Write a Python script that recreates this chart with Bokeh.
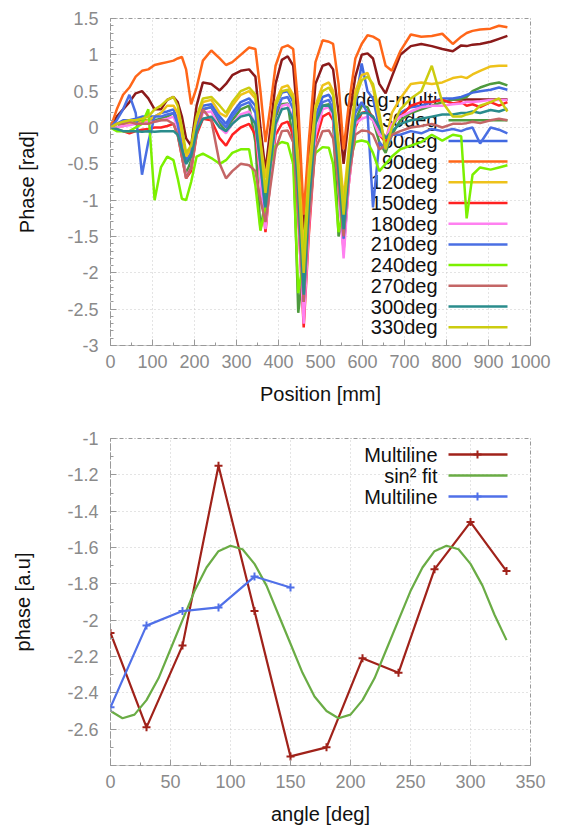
from bokeh.plotting import figure
from bokeh.layouts import column
from bokeh.models import Range1d, SingleIntervalTicker, CustomJSTickFormatter
from bokeh.core.properties import value
from bokeh.embed import file_html
from bokeh.resources import INLINE

# ---------------- top chart data ----------------
position_mm = [0, 15, 30, 45, 60, 75, 90, 105, 120, 135, 150, 160, 170, 180, 192, 205, 220, 240, 260, 275,
               290, 310, 330, 345, 357, 369, 381, 393, 408, 422, 435, 447, 460, 472, 488, 505, 520, 530, 543, 555,
               567, 583, 598, 612, 625, 640, 655, 670, 690, 715, 740, 765, 790, 815, 835, 848, 862, 880, 905, 925, 945]

phase_0deg_multi = [0, 0.15, 0.25, 0.35, 0.47, 0.5, 0.4, 0.25, 0.25, 0.38, 0.42, 0.35, 0.15, -0.15, -0.25, 0.3, 0.62, 0.6, 0.51, 0.6,
                    0.72, 0.78, 0.8, 0.7, 0.0, -0.6, 0.0, 0.6, 0.93, 0.98, 0.85, 0.0, -1.5, -0.5, 0.6, 0.85, 0.88, 0.8, 0.2, -0.5,
                    0.1, 0.7, 1.0, 1.02, 0.95, 0.6, 0.47, 0.7, 1.0, 1.12, 1.15, 1.12, 1.08, 1.05, 1.13, 1.12, 1.14, 1.15, 1.18, 1.22, 1.26]
phase_30deg = [0, 0.0, 0.05, 0.05, 0.08, 0.1, 0.1, 0.1, 0.12, 0.15, 0.2, 0.05, -0.35, -0.64, -0.45, 0.0, 0.25, 0.28, 0.05, -0.05,
               0.1, 0.25, 0.3, -0.2, -1.4, -1.0, -0.2, 0.15, 0.32, 0.33, -0.2, -2.55, -1.9, -0.6, 0.1, 0.3, 0.32, 0.1, -1.5, -1.2,
               -0.4, 0.1, 0.3, 0.28, 0.1, -0.2, -0.35, -0.1, 0.1, 0.2, 0.25, 0.3, 0.35, 0.38, 0.4, 0.42, 0.5, 0.55, 0.6, 0.62, 0.58]
phase_60deg = [0, 0.05, 0.1, 0.1, 0.12, 0.15, 0.15, 0.15, 0.2, 0.22, 0.25, 0.1, -0.2, -0.45, -0.35, 0.05, 0.3, 0.32, 0.15, 0.05,
               0.2, 0.35, 0.4, 0.3, -0.3, -0.9, -0.3, 0.3, 0.48, 0.5, 0.35, -0.8, -2.2, -1.0, 0.15, 0.42, 0.45, 0.35, -0.5, -1.4,
               -0.6, 0.3, 0.88, 0.5, 0.4, 0.0, -0.2, 0.0, 0.2, 0.28, 0.3, 0.35, 0.4, 0.4, 0.42, 0.45, 0.48, 0.5, 0.52, 0.55, 0.52]
phase_90deg = [0, 0.25, 0.45, 0.55, 0.7, 0.78, 0.8, 0.86, 0.88, 0.9, 0.92, 0.95, 0.97, 0.8, 0.32, 0.55, 0.92, 1.06, 0.95, 0.86,
               0.9, 1.0, 1.1, 1.08, 0.5, -0.2, 0.3, 0.85, 1.1, 1.13, 1.08, 0.3, -1.2, -0.2, 0.9, 1.2, 1.18, 1.15, 0.6, -0.3,
               0.3, 0.95, 1.15, 1.27, 1.25, 1.2, 0.85, 0.78, 1.05, 1.28, 1.25, 1.26, 1.29, 1.15, 1.25, 1.3, 1.33, 1.35, 1.36, 1.4, 1.38]
phase_120deg = [0, 0.0, 0.02, 0.05, 0.05, 0.08, 0.1, 0.15, 0.2, 0.3, 0.3, 0.2, -0.1, -0.4, -0.3, 0.1, 0.35, 0.38, 0.2, 0.15,
                0.3, 0.45, 0.5, 0.4, -0.2, -0.7, -0.2, 0.35, 0.55, 0.58, 0.45, -0.4, -1.7, -0.6, 0.3, 0.58, 0.62, 0.5, -0.2, -1.0,
                -0.3, 0.5, 0.72, 0.75, 0.55, 0.1, -0.2, 0.2, 0.4, 0.6, 0.62, 0.6, 0.62, 0.68, 0.7, 0.68, 0.73, 0.78, 0.84, 0.85, 0.85]
phase_150deg = [0, -0.03, -0.05, -0.08, -0.05, -0.03, -0.02, 0.0, 0.0, 0.02, 0.05, -0.1, -0.4, -0.7, -0.6, -0.1, 0.12, 0.1, -0.15, -0.25,
                -0.1, 0.0, 0.05, -0.1, -0.7, -1.44, -0.7, -0.1, 0.05, 0.08, -0.1, -1.2, -2.75, -1.5, -0.2, 0.15, 0.2, 0.1, -0.8, -1.69,
                -0.8, 0.0, 0.2, 0.22, 0.15, -0.1, -0.2, 0.05, 0.15, 0.3, 0.35, 0.35, 0.38, 0.33, 0.35, 0.3, 0.32, 0.28, 0.35, 0.3, 0.35]
phase_180deg = [0, 0.0, 0.02, 0.03, 0.05, 0.05, 0.08, 0.08, 0.1, 0.12, 0.15, 0.0, -0.35, -0.68, -0.55, -0.05, 0.2, 0.22, 0.0, -0.08,
                0.05, 0.18, 0.22, 0.05, -0.7, -1.4, -0.7, 0.0, 0.3, 0.32, 0.1, -1.2, -2.7, -1.4, -0.1, 0.25, 0.28, 0.15, -0.8, -1.8,
                -0.8, 0.05, 0.12, 0.15, 0.1, -0.1, -0.15, 0.05, 0.15, 0.22, 0.28, 0.3, 0.3, 0.32, 0.33, 0.35, 0.35, 0.36, 0.38, 0.38, 0.38]
phase_210deg = [0, 0.1, 0.25, 0.45, 0.2, -0.65, -0.2, 0.15, 0.15, 0.18, 0.2, 0.05, -0.3, -0.5, -0.35, 0.0, 0.25, 0.28, 0.1, 0.0,
                0.15, 0.3, 0.35, 0.2, -0.5, -1.2, -0.5, 0.2, 0.4, 0.42, 0.25, -1.0, -2.4, -1.1, 0.1, 0.35, 0.38, 0.25, -0.7, -1.53,
                -0.7, 0.2, 0.35, 0.2, -1.1, -0.2, -0.3, -0.1, -0.1, -0.05, -0.08, -0.02, -0.05, -0.02, -0.05, -0.02, 0.0, -0.22, 0.0, -0.03, -0.08]
phase_240deg = [0, -0.05, -0.05, -0.05, 0.0, 0.05, 0.25, -1.0, -0.55, -0.4, -0.45, -0.7, -0.98, -1.0, -0.75, -0.4, -0.36, -0.42, -0.5, -0.45,
                -0.35, -0.3, -0.3, -0.8, -1.42, -1.1, -0.5, -0.25, -0.2, -0.22, -0.5, -2.28, -1.8, -0.8, -0.35, -0.27, -0.28, -0.5, -1.44, -1.1,
                -0.5, -0.2, -0.18, -0.2, -0.35, -0.6, -0.5, -0.4, -0.3, -0.25, -0.2, -0.1, -0.18, -0.1, -0.12, -1.25, -0.65, -0.55, -0.58, -0.55, -0.52]
phase_270deg = [0, 0.05, 0.05, 0.08, 0.05, 0.05, 0.05, 0.08, 0.1, 0.1, 0.05, -0.1, -0.4, -0.7, -0.55, -0.1, 0.25, 0.1, -0.5, -0.7,
                -0.6, -0.5, -0.52, -0.6, -1.0, -1.3, -0.8, -0.3, -0.05, -0.04, -0.2, -1.2, -2.4, -1.3, -0.3, -0.05, -0.04, -0.15, -0.8, -1.5,
                -0.7, -0.1, -0.04, -0.05, -0.1, -0.3, -0.25, -0.1, -0.05, 0.0, 0.02, 0.05, 0.0, 0.05, 0.05, 0.06, 0.08, 0.06, 0.1, 0.12, 0.1]
phase_300deg = [0, -0.02, -0.05, -0.05, -0.05, -0.06, -0.05, -0.06, -0.05, -0.05, -0.05, -0.1, -0.3, -0.5, -0.4, -0.05, 0.12, 0.15, 0.0, -0.05,
                0.05, 0.15, 0.18, 0.05, -0.5, -1.1, -0.5, 0.05, 0.25, 0.27, 0.1, -0.9, -2.3, -1.1, 0.05, 0.3, 0.3, 0.2, -0.6, -1.4,
                -0.6, 0.1, 0.2, 0.2, 0.15, 0.0, -0.15, -0.05, 0.05, 0.1, 0.12, 0.15, 0.18, 0.18, 0.2, 0.2, 0.22, 0.2, 0.24, 0.22, 0.26]
phase_330deg = [0, 0.05, 0.08, 0.1, 0.1, 0.12, 0.15, 0.25, 0.3, 0.38, 0.42, 0.3, 0.0, -0.35, -0.25, 0.15, 0.4, 0.42, 0.3, 0.2,
                0.35, 0.5, 0.55, 0.45, -0.2, -0.9, -0.3, 0.3, 0.5, 0.52, 0.4, -0.6, -2.0, -0.8, 0.25, 0.5, 0.55, 0.45, -0.3, -1.2,
                -0.4, 0.4, 0.65, 0.7, 0.6, 0.2, -0.3, 0.0, 0.25, 0.4, 0.5, 0.85, 0.35, 0.15, 0.15, 0.18, 0.2, 0.3, 0.35, 0.4, 0.22]

series_labels = ["0deg-multi", "30deg", "60deg", "90deg", "120deg", "150deg",
                 "180deg", "210deg", "240deg", "270deg", "300deg", "330deg"]
series_values = [phase_0deg_multi, phase_30deg, phase_60deg, phase_90deg, phase_120deg, phase_150deg,
                 phase_180deg, phase_210deg, phase_240deg, phase_270deg, phase_300deg, phase_330deg]
series_colors = ["#8b1a1a", "#4e9a3e", "#4169e1", "#ff6619", "#eec21a", "#ff2222",
                 "#ff80f0", "#4a6fe3", "#7cf000", "#c46666", "#2a8c8c", "#cccc10"]

# ---------------- bottom chart data ----------------
angle_deg = [0, 30, 60, 90, 120, 150, 180, 210, 240, 270, 300, 330]
multiline_phase = [-2.07, -2.59, -2.14, -1.15, -1.95, -2.75, -2.70, -2.21, -2.29, -1.72, -1.46, -1.73]
multiline2_angle = [0, 30, 60, 90, 120, 150]
multiline2_phase = [-2.48, -2.03, -1.95, -1.93, -1.76, -1.82]
fit_angle = [0, 10, 20, 30, 40, 50, 60, 70, 80, 90, 100, 110, 120, 130, 140, 150, 160,
             170, 180, 190, 200, 210, 220, 230, 240, 250, 260, 270, 280, 290, 300, 310, 320, 330]
fit_phase = [-2.50, -2.54, -2.52, -2.44, -2.32, -2.16, -2.00, -1.84, -1.71, -1.62, -1.59, -1.61, -1.69,
             -1.81, -1.97, -2.13, -2.29, -2.42, -2.50, -2.54, -2.52, -2.44, -2.32, -2.16, -2.00, -1.84,
             -1.71, -1.62, -1.59, -1.61, -1.69, -1.81, -1.97, -2.11]
bottom_labels = ["Multiline", "sin\u00b2 fit", "Multiline"]
bottom_colors = ["#a0221a", "#6aac45", "#5070e8"]

FONT = "Liberation Sans"
W = 564
FR_L, FR_R = 110, 530  # frame left/right in figure px


def style(p, xint, xminor, yint, yminor, xlabel, ylabel):
    p.xaxis.ticker = SingleIntervalTicker(interval=xint, num_minor_ticks=xminor)
    p.yaxis.ticker = SingleIntervalTicker(interval=yint, num_minor_ticks=yminor)
    fmt = "const v = Math.round(tick*10)/10; return v.toString();"
    p.xaxis.formatter = CustomJSTickFormatter(code=fmt)
    p.yaxis.formatter = CustomJSTickFormatter(code=fmt)
    p.xaxis.axis_label = xlabel
    p.yaxis.axis_label = ylabel
    for ax in (p.xaxis, p.yaxis):
        ax.axis_label_text_font = FONT
        ax.axis_label_text_font_size = "20px"
        ax.axis_label_text_font_style = "normal"
        ax.axis_label_text_color = "#111111"
        ax.major_label_text_font = FONT
        ax.major_label_text_font_size = "18px"
        ax.major_label_text_color = "#8a8a8a"
        ax.major_tick_in = 6
        ax.major_tick_out = 0
        ax.minor_tick_in = 3
        ax.minor_tick_out = 0
        ax.major_tick_line_color = "#999999"
        ax.minor_tick_line_color = "#999999"
        ax.axis_line_color = "#999999"
        ax.axis_line_dash = "4 2 1 2"
    p.xaxis.major_label_standoff = 9
    p.xaxis.axis_label_standoff = 12
    p.yaxis.major_label_standoff = 12
    p.grid.grid_line_color = "#c8c8c8"
    p.grid.grid_line_dash = "1 3"
    p.outline_line_color = "#999999"
    p.outline_line_dash = "4 2 1 2"
    p.background_fill_color = "white"
    p.border_fill_color = "white"


def draw_legend(p, xr, yr, ftop, fbot, rows_y, labels, colors, markers):
    # convert figure-pixel layout positions into data coordinates
    def dx(px):
        return xr[0] + (px - FR_L) / (FR_R - FR_L) * (xr[1] - xr[0])

    def dy(py):
        return yr[1] - (py - ftop) / (fbot - ftop) * (yr[1] - yr[0])

    ys = [dy(v) for v in rows_y]
    p.text(x=[dx(437)] * len(labels), y=ys, text=labels, text_align="right",
           text_baseline="middle", text_font=value(FONT), text_font_size="20px",
           text_color="#111111")
    for yy, c, m in zip(ys, colors, markers):
        p.segment(x0=[dx(448)], y0=[yy], x1=[dx(507)], y1=[yy], line_color=c, line_width=2.5)
        if m:
            p.scatter(x=[dx(477)], y=[yy], marker="cross", size=8, line_color=c, line_width=2)


# ---------------- top figure ----------------
TOP_H = 415
TOP_FT, TOP_FB = 18, 345
top_x, top_y = (0, 1000), (-3, 1.5)
p1 = figure(width=W, height=TOP_H, output_backend="svg", toolbar_location=None,
            x_range=Range1d(*top_x), y_range=Range1d(*top_y),
            min_border_left=FR_L, min_border_right=W - FR_R, min_border_top=TOP_FT,
            min_border_bottom=TOP_H - TOP_FB)
style(p1, 100, 2, 0.5, 5, "Position [mm]", "Phase [rad]")
p1.yaxis.axis_label_standoff = 26
draw_legend(p1, top_x, top_y, TOP_FT, TOP_FB, [99 + 20.7 * i for i in range(12)], series_labels,
            series_colors, [False] * 12)
for vals, c in zip(series_values, series_colors):
    p1.line(position_mm, vals, line_color=c, line_width=2.5)

# ---------------- bottom figure ----------------
BOT_H = 416
BOT_FT, BOT_FB = 23, 350
bot_x, bot_y = (0, 350), (-2.8, -1.0)
p2 = figure(width=W, height=BOT_H, output_backend="svg", toolbar_location=None,
            x_range=Range1d(*bot_x), y_range=Range1d(*bot_y),
            min_border_left=FR_L, min_border_right=W - FR_R, min_border_top=BOT_FT,
            min_border_bottom=BOT_H - BOT_FB)
style(p2, 50, 2, 0.2, 2, "angle [deg]", "phase [a.u]")
p2.yaxis.axis_label_standoff = 30
draw_legend(p2, bot_x, bot_y, BOT_FT, BOT_FB, [39, 60, 81], bottom_labels, bottom_colors,
            [True, False, True])
p2.line(angle_deg, multiline_phase, line_color=bottom_colors[0], line_width=2.2)
p2.scatter(angle_deg, multiline_phase, marker="cross", size=8, line_color=bottom_colors[0], line_width=2)
p2.line(fit_angle, fit_phase, line_color=bottom_colors[1], line_width=2.2)
p2.line(multiline2_angle, multiline2_phase, line_color=bottom_colors[2], line_width=2.2)
p2.scatter(multiline2_angle, multiline2_phase, marker="cross", size=8, line_color=bottom_colors[2], line_width=2)

layout = column(p1, p2, spacing=0)
open("out.html", "w").write(file_html(layout, INLINE))
